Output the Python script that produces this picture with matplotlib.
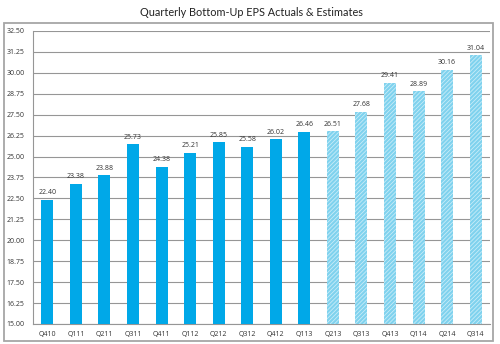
import matplotlib
matplotlib.use("Agg")
import matplotlib.pyplot as plt
from matplotlib.patches import Rectangle

quarters = ["Q410", "Q111", "Q211", "Q311", "Q411", "Q112", "Q212", "Q312",
            "Q412", "Q113", "Q213", "Q313", "Q413", "Q114", "Q214", "Q314"]
eps = [22.40, 23.38, 23.88, 25.73, 24.38, 25.21, 25.85, 25.58,
       26.02, 26.46, 26.51, 27.68, 29.41, 28.89, 30.16, 31.04]
n_actual = 10
yticks = [15.00 + 1.25 * i for i in range(15)]

plt.rcParams["font.family"] = ["Open Sans", "DejaVu Sans"]
plt.rcParams["hatch.linewidth"] = 0.6

fig = plt.figure(figsize=(5.0, 3.44), dpi=100)
fig.patches.append(Rectangle((4 / 500, 3 / 344), 489 / 500, 318 / 344,
                             transform=fig.transFigure, fill=False,
                             edgecolor="#a6a6a6", lw=1.3))
fig.text(0.502, 0.963, "Quarterly Bottom-Up EPS Actuals & Estimates",
         ha="center", va="center", fontsize=7.8, family=["Lato", "DejaVu Sans"],
         color="#222222")

ax = fig.add_axes([33 / 500, 20 / 344, 457 / 500, 293 / 344])
x = list(range(len(quarters)))
for i, v in enumerate(eps):
    if i < n_actual:
        ax.bar(i, v - 15, bottom=15, width=0.42, color="#00a8e8", lw=0, zorder=3)
    else:
        ax.bar(i, v - 15, bottom=15, width=0.42, facecolor="#7fd2ee",
               edgecolor="#c8ecf8", hatch="////////", lw=0, zorder=3)
    ax.text(i, v + 0.22, f"{v:.2f}", ha="center", va="bottom",
            fontsize=5, color="#333333", zorder=4)

ax.set_ylim(15, 32.5)
ax.set_xlim(-0.5, len(quarters) - 0.5)
ax.set_yticks(yticks)
ax.set_yticklabels([f"{t:.2f}" for t in yticks], fontsize=5, color="#333333")
ax.set_xticks(x)
ax.set_xticklabels(quarters, fontsize=5, color="#333333")
ax.tick_params(length=0, pad=6)
ax.tick_params(axis="x", pad=5)
ax.grid(axis="y", color="#969696", lw=0.8, zorder=0)
for s in ["top", "right"]:
    ax.spines[s].set_visible(False)
ax.spines["left"].set_color("#969696")
ax.spines["bottom"].set_color("#969696")

fig.savefig("out.png", dpi=100, facecolor="white")
